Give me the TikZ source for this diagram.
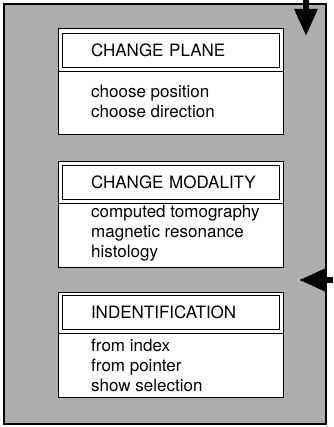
\documentclass[tikz,border=0pt]{standalone}
\usepackage{fontspec}
\setmainfont{TeX Gyre Heros}
\usetikzlibrary{arrows.meta}
\tikzset{
  frame/.style={draw,line width=1.2pt,fill=black!32},
  panel/.style={draw,line width=1pt,fill=white,minimum width=225pt,inner sep=0pt},
  titlebox/.style={draw,line width=0.8pt,minimum height=34pt,inner xsep=29pt,inner ysep=0pt,
    text width=159pt,align=left},
  items/.style={anchor=west,align=left,inner sep=0pt},
  flow/.style={line width=6pt,-{Triangle[length=27pt,width=22pt]}}
}
\begin{document}
\begin{tikzpicture}[x=1pt,y=-1pt,font=\fontsize{17}{20}\selectfont]
\useasboundingbox (0,0) rectangle (333,427);
\node[frame,minimum width=322pt,minimum height=420pt,inner sep=0pt] (outer) at (165,214) {};
% panels
\node[panel,minimum height=106pt] (plane) at (170.5,82) {};
\node[panel,minimum height=105pt] (modality) at (170.5,214.5) {};
\node[panel,minimum height=105pt] (ident) at (170.5,344.5) {};
% titles
\node[titlebox] (planeT) at (170.5,50) {\mbox{CHANGE PLANE}};
\node[titlebox] (modalityT) at (170.5,182) {\mbox{CHANGE MODALITY}};
\node[titlebox] (identT) at (170.5,312) {\mbox{INDENTIFICATION}};
\foreach \p in {plane,modality,ident}
  \draw[line width=0.8pt] ([yshift=-4pt]\p T.south -| \p.west) -- ([yshift=-4pt]\p T.south -| \p.east);
% items
\node[items] (planeL) at (91,101) {choose position\\choose direction};
\node[items] (modalityL) at (91,233) {computed tomography\\magnetic resonance\\histology};
\node[items] (identL) at (91,365) {from index\\from pointer\\show selection};
% arrows
\coordinate (topIn) at (306,0);
\coordinate (topTip) at (306,36);
\coordinate (sideIn) at (333,280);
\coordinate (sideTip) at (299,280);
\draw[flow] (topIn) -- (topTip);
\draw[flow] (sideIn) -- (sideTip);
\end{tikzpicture}
\end{document}
